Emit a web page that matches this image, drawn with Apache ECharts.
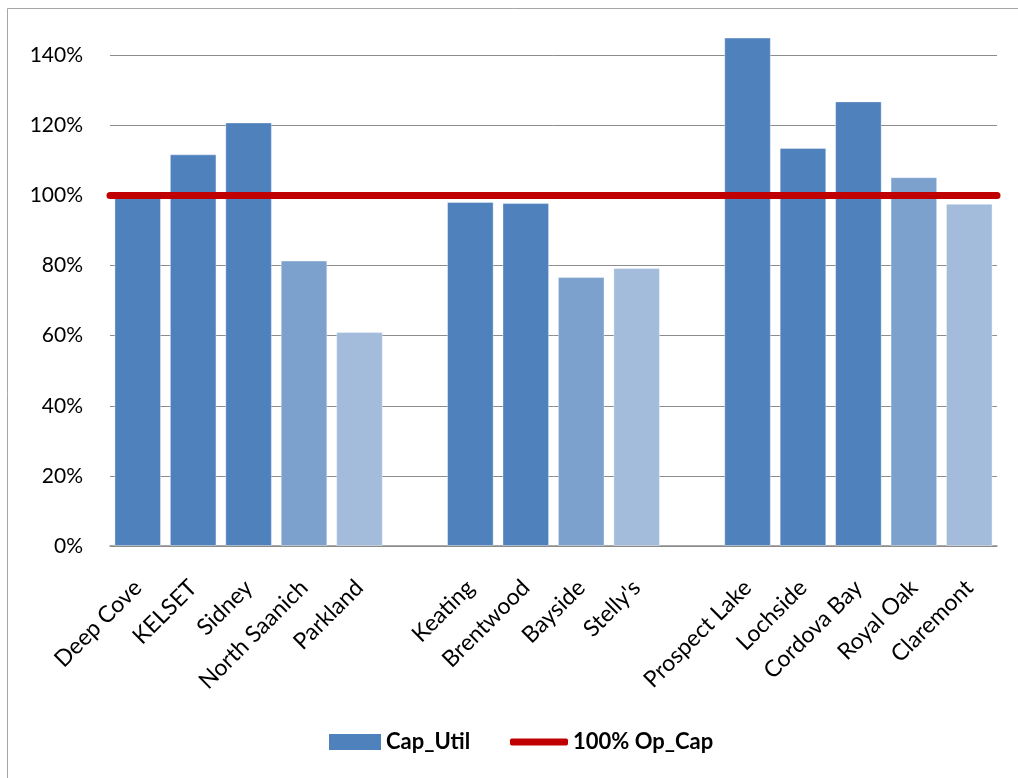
<!DOCTYPE html>
<html>
<head>
<meta charset="utf-8">
<script src="https://cdn.jsdelivr.net/npm/echarts@6/dist/echarts.min.js"></script>
<style>
  html, body { margin: 0; padding: 0; background: #fff; }
  #chart { width: 1018px; height: 778px; }
</style>
</head>
<body>
<div id="chart"></div>
<script>
// === ДАННЫЕ ===
const categories = [
    'Deep Cove', 'KELSET', 'Sidney', 'North Saanich', 'Parkland', ' ',
    'Keating', 'Brentwood', 'Bayside', "Stelly's", '  ',
    'Prospect Lake', 'Lochside', 'Cordova Bay', 'Royal Oak', 'Claremont'
];
const capUtil = [
    99.3, 111.7, 120.8, 81.4, 61.0, null,
    98.1, 97.8, 76.7, 79.3, null,
    145.0, 113.5, 126.8, 105.2, 97.6
];
const opCap = [100, 100];
const yTicks = [0, 20, 40, 60, 80, 100, 120, 140];

// === ЦВЕТА ===
const DARK = '#4F81BD';
const MID = '#7BA1CC';
const LIGHT = '#A3BCDC';
const RED = '#C00000';
const FONT = 'Lato, "Open Sans", sans-serif';

// последний столбец группы - светлый, предпоследний - средний
function shadeFor(i) {
    const isEnd = j => j >= capUtil.length || capUtil[j] === null;
    if (isEnd(i + 1)) return LIGHT;
    if (isEnd(i + 2)) return MID;
    return DARK;
}

const chart = echarts.init(document.getElementById('chart'));

const option = {
    animation: false,
    graphic: [{
        type: 'rect',
        shape: { x: 7.5, y: 8.5, width: 1030, height: 800 },
        style: { fill: 'none', stroke: '#A6A6A6', lineWidth: 1 },
        silent: true
    }],
    grid: {
        left: 110, right: 21, top: -15, bottom: 232,
        outerBoundsMode: 'none'
    },
    legend: [{
        data: ['Cap_Util'],
        left: 324, top: 726,
        itemWidth: 52, itemHeight: 16,
        icon: 'rect',
        textStyle: { fontFamily: FONT, fontSize: 22, fontWeight: 'bold', color: '#000' }
    }, {
        data: ['100% Op_Cap'],
        left: 505, top: 726,
        itemWidth: 58, itemHeight: 7,
        icon: 'roundRect',
        textStyle: { fontFamily: FONT, fontSize: 22, fontWeight: 'bold', color: '#000' }
    }],
    xAxis: [{
        type: 'category',
        data: categories,
        axisLine: { lineStyle: { color: '#8C8C8C', width: 1.5 } },
        axisTick: { show: false },
        axisLabel: {
            interval: 0,
            rotate: 45,
            margin: 38,
            fontFamily: FONT,
            fontSize: 23,
            color: '#000'
        }
    }, {
        type: 'category',
        data: ['a', 'b'],
        boundaryGap: false,
        show: false
    }],
    yAxis: {
        type: 'value',
        min: 0,
        max: 160,
        interval: 20,
        axisLine: { show: false },
        axisTick: { show: false },
        splitLine: { lineStyle: { color: '#8C8C8C', width: 1 } },
        axisLabel: {
            margin: 27,
            fontFamily: FONT,
            fontSize: 21,
            color: '#000',
            formatter: v => yTicks.includes(v) ? v + '%' : ''
        }
    },
    series: [{
        name: 'Cap_Util',
        type: 'bar',
        barCategoryGap: '16%',
        itemStyle: { color: DARK },
        data: capUtil.map((v, i) => v === null ? '-' : {
            value: v,
            itemStyle: { color: shadeFor(i), borderColor: 'rgba(255,255,255,0.35)', borderWidth: 1 }
        })
    }, {
        name: '100% Op_Cap',
        type: 'line',
        xAxisIndex: 1,
        data: opCap,
        symbol: 'none',
        lineStyle: { color: RED, width: 7, cap: 'round' },
        itemStyle: { color: RED },
        z: 5
    }]
};

chart.setOption(option);
</script>
</body>
</html>
